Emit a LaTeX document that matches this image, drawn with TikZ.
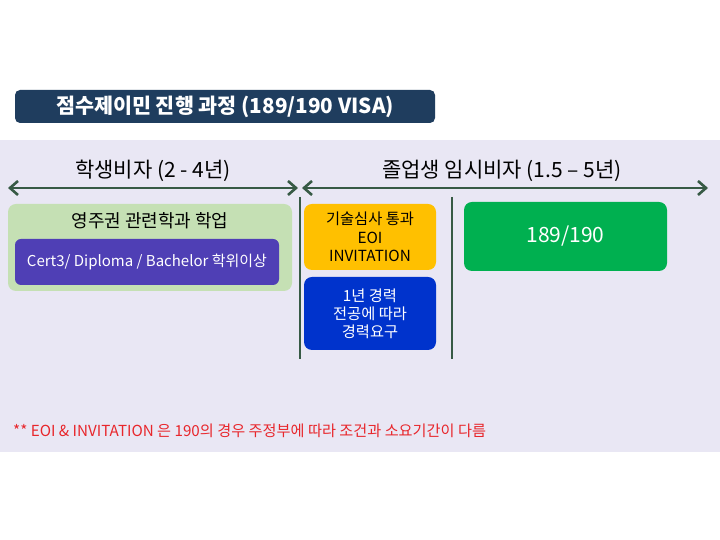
\documentclass[tikz,border=0pt]{standalone}
\usepackage{fontspec}
\setmainfont{Noto Sans CJK KR}
\usetikzlibrary{arrows.meta,positioning,calc}

\definecolor{titlenavy}{HTML}{1F3D5E}
\definecolor{bandgray}{HTML}{E9E7F4}
\definecolor{linegreen}{HTML}{375A45}
\definecolor{studygreen}{HTML}{C5E0B4}
\definecolor{degreepurple}{HTML}{4F3FB5}
\definecolor{eoiyellow}{HTML}{FFC000}
\definecolor{workblue}{HTML}{0033CC}
\definecolor{visagreen}{HTML}{00B050}
\definecolor{noteRed}{HTML}{E8262B}

\begin{document}
\begin{tikzpicture}[x=1pt, y=1pt,
    stagebox/.style={rounded corners=8pt, inner sep=0pt, align=center},
    period/.style={linegreen, line width=2.6pt, {Straight Barb[length=8pt,width=14pt]}-{Straight Barb[length=8pt,width=14pt]}},
    divider/.style={linegreen, line width=2.6pt}]
    \useasboundingbox (0,0) rectangle (720,540);
    \fill[white] (0,0) rectangle (720,540);

    % Background band
    \fill[bandgray] (0,88) rectangle (720,400);

    % Title
    \node[stagebox, rounded corners=5pt, fill=titlenavy, text=white, minimum width=420pt, minimum height=33pt,
          font=\fontsize{20.7}{24}\selectfont\bfseries] (title) at (225,433.5) {점수제이민 진행 과정 (189/190 VISA)};

    % Periods
    \coordinate (s1) at (8,352);
    \coordinate (e1) at (298,352);
    \coordinate (s2) at (302,352);
    \coordinate (e2) at (708,352);
    \draw[period] (s1) -- (e1);
    \draw[period] (s2) -- (e2);
    \node[font=\fontsize{21}{25}\selectfont] (studentlbl) at (153,369) {학생비자 (2 - 4년)};
    \node[font=\fontsize{21}{25}\selectfont] (graduatelbl) at (502,369) {졸업생 임시비자 (1.5 – 5년)};

    % Dividers
    \coordinate (d1top) at (300,343);
    \coordinate (d1bot) at (300,181);
    \coordinate (d2top) at (452,343);
    \coordinate (d2bot) at (452,181);
    \draw[divider] (d1top) -- (d1bot);
    \draw[divider] (d2top) -- (d2bot);

    % Study
    \node[stagebox, fill=studygreen, minimum width=284pt, minimum height=87pt] (study) at (150,292.5) {};
    \node[font=\fontsize{18}{21}\selectfont] (studylbl) at (150,319) {영주권 관련학과 학업};
    \node[stagebox, rounded corners=6pt, fill=degreepurple, text=white, minimum width=264pt, minimum height=46pt,
          font=\fontsize{15}{18}\selectfont] (degree) at (147,278) {Cert3/ Diploma / Bachelor 학위이상};

    % Graduate stage
    \node[stagebox, fill=eoiyellow, minimum width=132pt, minimum height=66pt,
          font=\fontsize{15.3}{18.3}\selectfont] (eoi) at (370,303) {기술심사 통과\\EOI\\INVITATION};
    \node[stagebox, fill=workblue, text=white, minimum width=132pt, minimum height=73pt,
          font=\fontsize{15.3}{18}\selectfont] (work) at (370,226.5) {1년 경력\\전공에 따라\\경력요구};
    \node[stagebox, fill=visagreen, text=white, minimum width=203pt, minimum height=69pt,
          font=\fontsize{21}{25}\selectfont] (visa) at (565.5,303.5) {189/190};

    % Note
    \node[anchor=west, inner sep=0pt, text=noteRed, font=\fontsize{15.2}{18}\selectfont] (note) at (13,109)
        {** EOI \& INVITATION 은 190의 경우 주정부에 따라 조건과 소요기간이 다름};
\end{tikzpicture}
\end{document}
